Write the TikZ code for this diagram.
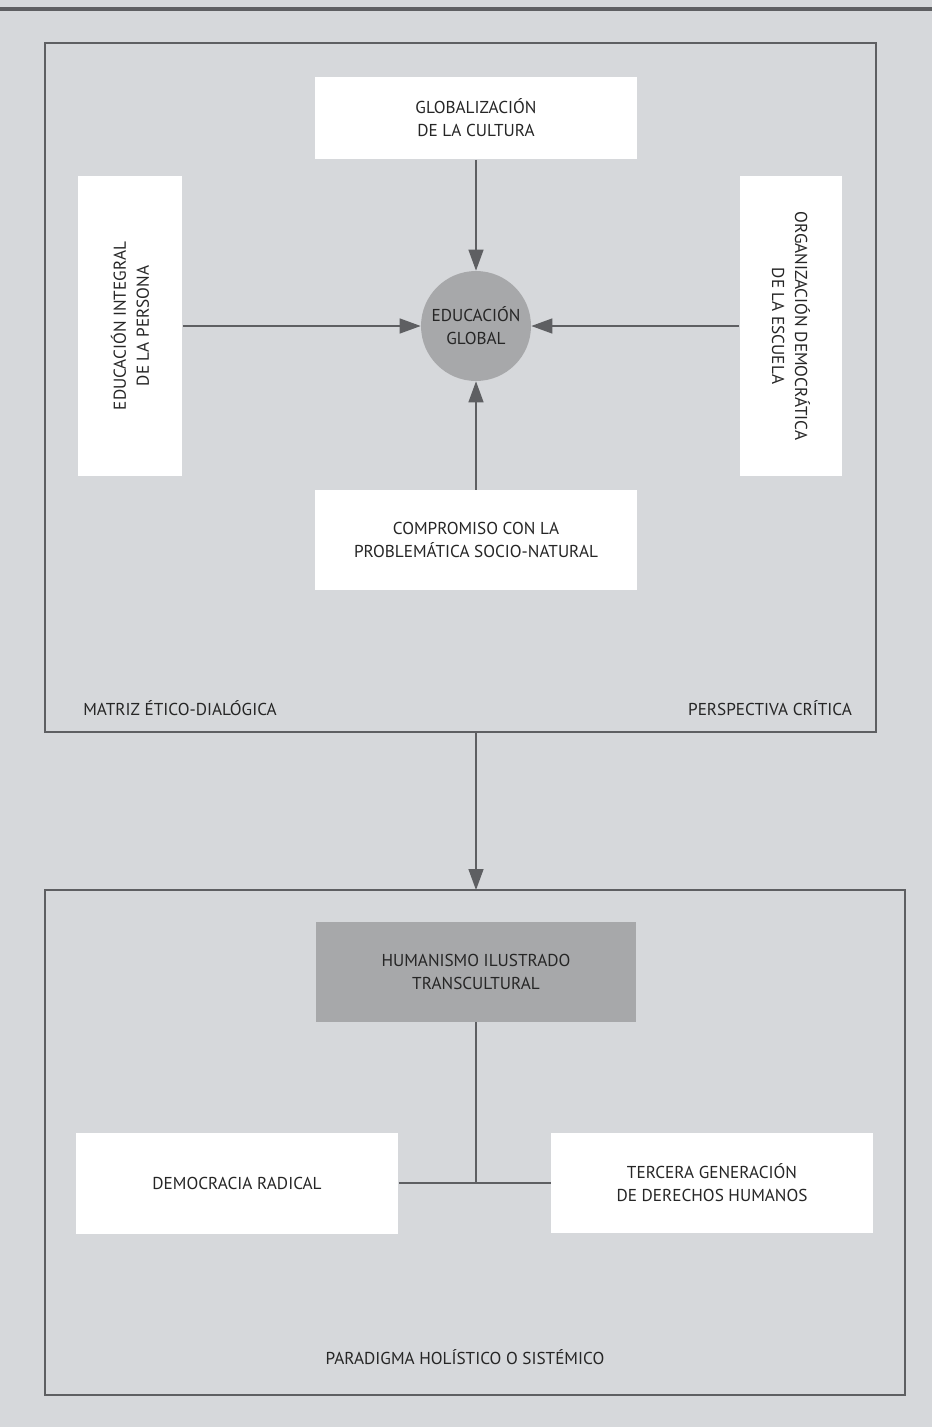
\documentclass[tikz,border=0pt]{standalone}
\usepackage{fontspec}
\setmainfont{PT Sans}
\usetikzlibrary{arrows.meta}
\definecolor{paper}{HTML}{D6D8DB}
\definecolor{frame}{HTML}{5E5F62}
\definecolor{darkbox}{HTML}{A7A8AA}
\begin{document}
\begin{tikzpicture}[x=0.02cm,y=-0.02cm,
    font=\fontsize{9.8}{13}\selectfont\color{black!85},
    conn/.style={draw=frame,thick},
    tip/.style={-{Triangle[length=0.42cm,width=0.3cm]}}]
  \fill[paper] (0,0) rectangle (932,1427);
  \useasboundingbox (0,0) rectangle (932,1427);
  \draw[frame,line width=1.8pt] (0,9) -- (932,9);
  % frames
  \draw[frame,thick] (45,43) rectangle (876,732);
  \draw[frame,thick] (45,890) rectangle (905,1395);
  \begin{scope}[every node/.style={fill=white,align=center,inner sep=2pt}]
    \node[minimum width=6.44cm,minimum height=1.66cm] (glob) at (476,118) {GLOBALIZACIÓN\\DE LA CULTURA};
    \node[rotate=90,minimum width=6cm,minimum height=2.1cm] (integral) at (130,326) {EDUCACIÓN INTEGRAL\\DE LA PERSONA};
    \node[rotate=-90,minimum width=6cm,minimum height=2.06cm] (org) at (791,326) {ORGANIZACIÓN DEMOCRÁTICA\\DE LA ESCUELA};
    \node[minimum width=6.44cm,minimum height=2cm] (comp) at (476,540) {COMPROMISO CON LA\\PROBLEMÁTICA SOCIO-NATURAL};
    \node[fill=darkbox,minimum width=6.42cm,minimum height=2cm] (hum) at (476,972) {HUMANISMO ILUSTRADO\\TRANSCULTURAL};
    \node[minimum width=6.46cm,minimum height=2.02cm] (dem) at (237,1183) {DEMOCRACIA RADICAL};
    \node[minimum width=6.44cm,minimum height=2cm] (ter) at (712,1183) {TERCERA GENERACIÓN\\DE DERECHOS HUMANOS};
  \end{scope}
  \node[circle,fill=darkbox,minimum size=2.2cm,inner sep=0pt,align=center] (global) at (476,326) {EDUCACIÓN\\GLOBAL};
  % labels
  \node (matriz) at (180,708) {MATRIZ ÉTICO-DIALÓGICA};
  \node (critica) at (770,708) {PERSPECTIVA CRÍTICA};
  \node (paradigma) at (465,1357) {PARADIGMA HOLÍSTICO O SISTÉMICO};
  \coordinate (top) at (476,732);
  \coordinate (bottom) at (476,890);
  \coordinate (joint) at (476,1183);
  % connectors
  \path[conn,tip] (glob) -- (global);
  \path[conn,tip] (integral) -- (global);
  \path[conn,tip] (org) -- (global);
  \path[conn,tip] (comp) -- (global);
  \path[conn,tip] (top) -- (bottom);
  \path[conn] (hum) -- (joint);
  \path[conn] (dem) -- (ter);
\end{tikzpicture}
\end{document}
